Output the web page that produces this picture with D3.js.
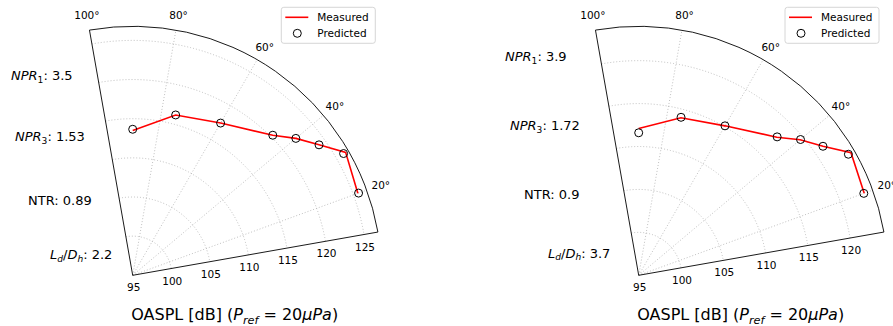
<!DOCTYPE html>
<html>
<head>
<meta charset="utf-8">
<script src="https://cdn.jsdelivr.net/npm/d3@7"></script>
<style>
  body { margin: 0; background: #fff; }
  svg { font-family: "DejaVu Sans", sans-serif; }
</style>
</head>
<body>
<div id="chart"></div>
<script>
// Directivity angles (deg) shared by both cases
const angles = [90, 75, 60, 45, 40, 35, 30, 20];

// Case A
const measuredA  = [113.5, 116.2, 117.45, 120.3, 122.2, 124.05, 126.4, 125.6];
const predictedA = [113.65, 116.2, 117.45, 120.3, 122.2, 124.05, 126.1, 125.7];
const radialTicksA = [95, 100, 105, 110, 115, 120, 125];
const rMaxA = 126.8;

// Case B
const measuredB  = [112.1, 114.0, 115.1, 117.75, 119.55, 121.2, 123.55, 122.95];
const predictedB = [111.6, 114.05, 115.1, 117.8, 119.6, 121.2, 123.2, 122.9];
const radialTicksB = [95, 100, 105, 110, 115, 120];
const rMaxB = 124.0;

const angleTicks = [20, 40, 60, 80, 100];
const angleGrid = [20, 40, 60, 80];
const thetaMin = 10, thetaMax = 100, rMin = 95;

// Operating-condition labels: [segments], segment = [text, kind]
const conditionsA = [
  [["NPR", "i"], ["1", "sub"], [": 3.5", ""]],
  [["NPR", "i"], ["3", "sub"], [": 1.53", ""]],
  [["NTR: 0.89", ""]],
  [["L", "i"], ["d", "isub"], ["/", ""], ["D", "i"], ["h", "isub"], [": 2.2", ""]]
];
const conditionsB = [
  [["NPR", "i"], ["1", "sub"], [": 3.9", ""]],
  [["NPR", "i"], ["3", "sub"], [": 1.72", ""]],
  [["NTR: 0.9", ""]],
  [["L", "i"], ["d", "isub"], ["/", ""], ["D", "i"], ["h", "isub"], [": 3.7", ""]]
];
const xLabel = [["OASPL [dB] (", ""], ["P", "i"], ["ref", "isub"], [" = 20", ""], ["μPa", "i"], [")", ""]];
const legendLabels = ["Measured", "Predicted"];

const width = 893, height = 326;
const R = 249;

const panels = [
  { cx: 132.7, cy: 275.3, rMax: rMaxA, ticks: radialTicksA, measured: measuredA, predicted: predictedA,
    cond: conditionsA, condX: [11, 15, 28, 50], condY: [80, 141, 205, 259], legendX: 281.3 },
  { cx: 638.7, cy: 275.3, rMax: rMaxB, ticks: radialTicksB, measured: measuredB, predicted: predictedB,
    cond: conditionsB, condX: [505, 510, 524, 548], condY: [61, 130, 199, 257.5], legendX: 785 }
];

const svg = d3.select("#chart").append("svg")
  .attr("width", width)
  .attr("height", height);

const rad = d3.scaleLinear().domain([0, 180]).range([0, Math.PI]);

// write math-ish text with italic parts and subscripts
function richText(sel, segs, size) {
  let shifted = false;
  segs.forEach(([t, kind]) => {
    const sub = kind === "sub" || kind === "isub";
    const ts = sel.append("tspan").text(t);
    if (kind === "i" || kind === "isub") ts.attr("font-style", "italic");
    if (sub) {
      ts.attr("font-size", size * 0.7);
      if (!shifted) { ts.attr("dy", size * 0.22); shifted = true; }
    } else if (shifted) {
      ts.attr("dy", -size * 0.22); shifted = false;
    }
  });
}

panels.forEach(p => {
  const r = d3.scaleLinear().domain([rMin, p.rMax]).range([0, R]);
  const px = (th, rr) => p.cx + rr * Math.cos(rad(th));
  const py = (th, rr) => p.cy - rr * Math.sin(rad(th));
  const g = svg.append("g");

  const arcPath = rr => {
    const path = d3.path();
    path.arc(p.cx, p.cy, rr, -rad(thetaMax), -rad(thetaMin), false);
    return path.toString();
  };

  // grid: arcs
  g.append("g").selectAll("path")
    .data(p.ticks.filter(t => t > rMin))
    .join("path")
    .attr("d", t => arcPath(r(t)))
    .attr("fill", "none")
    .attr("stroke", "#b0b0b0")
    .attr("stroke-width", 0.8)
    .attr("stroke-dasharray", "1,2");

  // grid: spokes
  g.append("g").selectAll("line")
    .data(angleGrid)
    .join("line")
    .attr("x1", p.cx).attr("y1", p.cy)
    .attr("x2", th => px(th, R)).attr("y2", th => py(th, R))
    .attr("stroke", "#b0b0b0")
    .attr("stroke-width", 0.8)
    .attr("stroke-dasharray", "1,2");

  // spines
  g.append("path")
    .attr("d", () => {
      const path = d3.path();
      path.moveTo(px(thetaMin, R), py(thetaMin, R));
      path.lineTo(p.cx, p.cy);
      path.lineTo(px(thetaMax, R), py(thetaMax, R));
      path.arc(p.cx, p.cy, R, -rad(thetaMax), -rad(thetaMin), false);
      return path.toString();
    })
    .attr("fill", "none")
    .attr("stroke", "#000")
    .attr("stroke-width", 0.9);

  // radial tick labels along lower edge
  g.append("g").selectAll("text")
    .data(p.ticks)
    .join("text")
    .attr("x", t => px(thetaMin, r(t)) + 1)
    .attr("y", t => py(thetaMin, r(t)) + 12)
    .attr("text-anchor", "middle")
    .attr("dominant-baseline", "central")
    .attr("font-size", 10.5)
    .text(t => t);

  // angle labels
  g.append("g").selectAll("text")
    .data(angleTicks)
    .join("text")
    .attr("x", th => px(th, R + 15))
    .attr("y", th => py(th, R + 15))
    .attr("text-anchor", "middle")
    .attr("dominant-baseline", "central")
    .attr("font-size", 10.5)
    .text(th => th + "°");

  // measured line
  const line = d3.line()
    .x((v, i) => px(angles[i], r(v)))
    .y((v, i) => py(angles[i], r(v)));
  g.append("path")
    .attr("d", line(p.measured))
    .attr("fill", "none")
    .attr("stroke", "red")
    .attr("stroke-width", 1.6);

  // predicted markers
  g.append("g").selectAll("circle")
    .data(p.predicted)
    .join("circle")
    .attr("cx", (v, i) => px(angles[i], r(v)))
    .attr("cy", (v, i) => py(angles[i], r(v)))
    .attr("r", 4)
    .attr("fill", "none")
    .attr("stroke", "#000")
    .attr("stroke-width", 1);

  // condition labels
  p.cond.forEach((segs, i) => {
    const t = g.append("text")
      .attr("x", p.condX[i])
      .attr("y", p.condY[i])
      .attr("font-size", 13);
    richText(t, segs, 13);
  });

  // x label
  const xl = g.append("text")
    .attr("x", p.cx + 102)
    .attr("y", 320)
    .attr("text-anchor", "middle")
    .attr("font-size", 16);
  richText(xl, xLabel, 16);

  // legend
  const lg = g.append("g").attr("transform", `translate(${p.legendX},7.3)`);
  lg.append("rect")
    .attr("width", 94).attr("height", 36)
    .attr("rx", 2.5)
    .attr("fill", "#fff").attr("fill-opacity", 0.8)
    .attr("stroke", "#cccccc").attr("stroke-width", 0.8);
  lg.append("line")
    .attr("x1", 4).attr("x2", 27).attr("y1", 10).attr("y2", 10)
    .attr("stroke", "red").attr("stroke-width", 1.6);
  lg.append("circle")
    .attr("cx", 16).attr("cy", 26).attr("r", 4)
    .attr("fill", "none").attr("stroke", "#000");
  lg.selectAll("text.lab")
    .data(legendLabels)
    .join("text")
    .attr("class", "lab")
    .attr("x", 36)
    .attr("y", (d, i) => 10 + i * 16)
    .attr("dominant-baseline", "central")
    .attr("font-size", 10.5)
    .text(d => d);
});
</script>
</body>
</html>
